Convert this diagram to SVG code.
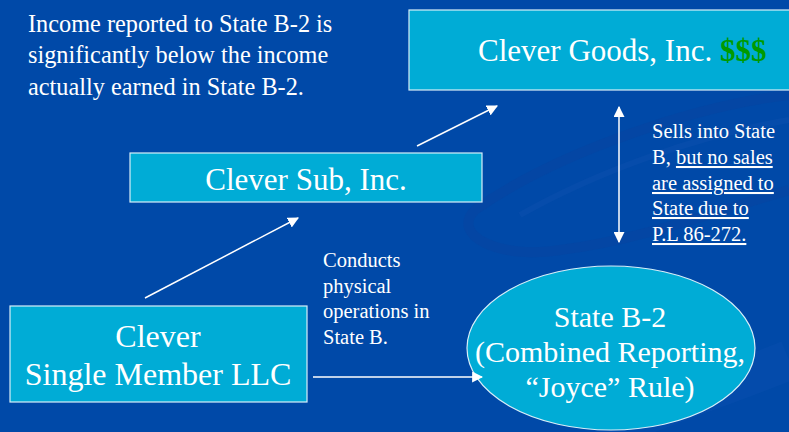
<svg xmlns="http://www.w3.org/2000/svg" width="789" height="432" viewBox="0 0 789 432">
<defs>
<style>
.box{fill:#00ACD6;stroke:#D8EEF8;stroke-width:1.2}
.t{font-family:"Liberation Serif","Times New Roman",serif;fill:#FFFFFF}
.big{font-size:31px}
.llc{font-size:32px}
.mid{font-size:24.3px}
.sm{font-size:20.5px}
.conn{stroke:#FFFFFF;stroke-width:1.5;fill:none}
</style>
<marker id="ah2" viewBox="0 0 10 10" refX="9" refY="5" markerWidth="11" markerHeight="11" markerUnits="userSpaceOnUse" orient="auto-start-reverse">
<path d="M0,0 L10,5 L0,10 z" fill="#FFFFFF"/>
</marker>
</defs>
<rect x="0" y="0" width="789" height="432" fill="#0049A8"/>
<g id="background" fill="none">
<path d="M789,95 C700,105 560,150 475,210 C450,235 500,260 560,250 C640,240 720,210 789,190" stroke="#0843A0" stroke-width="10" opacity="0.5"/>
<path d="M789,120 C700,135 600,170 520,215" stroke="#0F52AE" stroke-width="6" opacity="0.4"/>
<path d="M600,432 C680,400 740,380 789,360" stroke="#0A4FAE" stroke-width="40" opacity="0.4"/>
</g>
<g id="note-income">
<text class="t mid" x="28" y="32">Income reported to State B-2 is</text>
<text class="t mid" x="28" y="63">significantly below the income</text>
<text class="t mid" x="28" y="95">actually earned in State B-2.</text>
</g>
<g id="clever-goods">
<rect class="box" x="409" y="10" width="390" height="80"/>
<text class="t big" x="478" y="61">Clever Goods, Inc. <tspan fill="#009A00" font-weight="bold">$$$</tspan></text>
</g>
<g id="clever-sub">
<rect class="box" x="130" y="153" width="352" height="49"/>
<text class="t big" x="306" y="190" text-anchor="middle">Clever Sub, Inc.</text>
</g>
<g id="clever-llc">
<rect class="box" x="10" y="306" width="297" height="96"/>
<text class="t llc" x="158" y="347" text-anchor="middle">Clever</text>
<text class="t llc" x="158" y="385" text-anchor="middle">Single Member LLC</text>
</g>
<g id="state-b2">
<ellipse cx="611" cy="348" rx="144" ry="82" fill="#00ACD6" stroke="#D8EEF8" stroke-width="1.2"/>
<text class="t" x="610" y="327" text-anchor="middle" font-size="30">State B-2</text>
<text class="t" x="610" y="362" text-anchor="middle" font-size="30">(Combined Reporting,</text>
<text class="t" x="610" y="397" text-anchor="middle" font-size="30">“Joyce” Rule)</text>
</g>
<g id="note-conducts">
<text class="t sm" x="323" y="267">Conducts</text>
<text class="t sm" x="323" y="293">physical</text>
<text class="t sm" x="323" y="318">operations in</text>
<text class="t sm" x="323" y="344">State B.</text>
</g>
<g id="note-sells">
<text class="t sm" x="652" y="138">Sells into State</text>
<text class="t sm" x="652" y="164">B, <tspan text-decoration="underline">but no sales</tspan></text>
<text class="t sm" x="652" y="190" text-decoration="underline">are assigned to</text>
<text class="t sm" x="652" y="215" text-decoration="underline">State due to</text>
<text class="t sm" x="652" y="241" text-decoration="underline">P.L 86-272.</text>
</g>
<g id="connectors">
<line class="conn" x1="145" y1="298" x2="298" y2="218" marker-end="url(#ah2)"/>
<line class="conn" x1="417" y1="146" x2="497" y2="106" marker-end="url(#ah2)"/>
<line class="conn" x1="313" y1="377" x2="482" y2="377" stroke="#C8DCF0" marker-end="url(#ah2)"/>
<line class="conn" x1="619" y1="107" x2="619" y2="242" marker-start="url(#ah2)" marker-end="url(#ah2)"/>
</g>
</svg>
